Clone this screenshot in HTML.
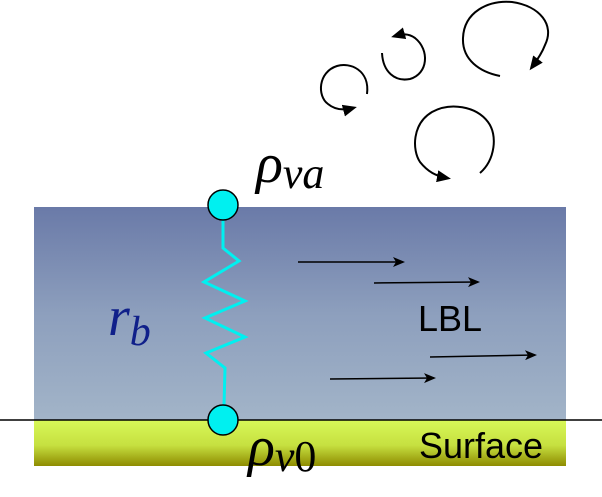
<!DOCTYPE html>
<html><head><style>
body{margin:0;background:#fff;width:602px;height:492px;overflow:hidden}
</style></head><body>
<svg width="602" height="492" viewBox="0 0 602 492" xmlns="http://www.w3.org/2000/svg">
<defs>
<linearGradient id="bl" x1="0" y1="0" x2="0" y2="1">
<stop offset="0" stop-color="#6a7aa8"/><stop offset="0.5" stop-color="#8d9fbd"/><stop offset="1" stop-color="#a2b4c8"/>
</linearGradient>
<linearGradient id="gr" x1="0" y1="0" x2="0" y2="1">
<stop offset="0" stop-color="#d8f858"/><stop offset="0.55" stop-color="#c6e040"/><stop offset="1" stop-color="#8e8c00"/>
</linearGradient>
<marker id="ah" markerWidth="12" markerHeight="10" refX="10" refY="5" orient="auto" markerUnits="userSpaceOnUse">
<path d="M0,0 L12,5 L0,10 L3,5 Z" fill="#000"/>
</marker>
<marker id="as" markerWidth="14" markerHeight="12" refX="10" refY="6" orient="auto" markerUnits="userSpaceOnUse">
<path d="M0,0 L14,6 L0,12 Z" fill="#000"/>
</marker>
</defs>
<rect x="34" y="207" width="532" height="213" fill="url(#bl)"/>
<rect x="34" y="420" width="532" height="46" fill="url(#gr)"/>
<line x1="0" y1="420" x2="602" y2="420" stroke="#000" stroke-width="1.5"/>
<polyline points="223,218 223,248 239,261 204,282 245,301 205,318 245,337 206,353 225,368 224,406" fill="none" stroke="#00f0f0" stroke-width="3"/>
<circle cx="223" cy="205" r="15" fill="#00f0f0" stroke="#000" stroke-width="1.5"/>
<circle cx="223" cy="420" r="15" fill="#00f0f0" stroke="#000" stroke-width="1.5"/>
<g stroke="#000" stroke-width="1.5" marker-end="url(#ah)">
<line x1="298" y1="262" x2="403" y2="262"/>
<line x1="374" y1="283" x2="478" y2="282"/>
<line x1="430" y1="357" x2="535" y2="355"/>
<line x1="330" y1="379" x2="434" y2="378"/>
</g>
<g fill="none" stroke="#000" stroke-width="2" marker-end="url(#as)">
<path d="M367,94 C370,70 350,62 337,66 C318,72 317,96 328,104 C334,109 342,111 353,108"/>
<path d="M382,53 C383,72 395,82 410,79 C428,74 430,50 415,38 C408,33 402,34 395,36"/>
<path d="M500,76 C480,72 462,60 463,38 C464,12 488,0 512,2 C540,6 555,25 545,45 C542,53 538,59 532,67"/>
<path d="M480,173 C495,160 498,135 488,122 C476,106 450,102 432,112 C412,124 412,150 420,162 C428,172 436,176 447,178"/>
</g>
<text x="418" y="331" font-family="Liberation Sans, sans-serif" font-size="36" fill="#000">LBL</text>
<text x="419" y="458" font-family="Liberation Sans, sans-serif" font-size="36" fill="#000">Surface</text>
<text x="108" y="335" font-family="Liberation Serif, serif" font-style="italic" font-size="56" fill="#10208a">r<tspan font-size="42" dy="10">b</tspan></text>
<text x="256" y="182" font-family="Liberation Serif, serif" font-style="italic" font-size="56" fill="#000">ρ<tspan font-size="44" dy="6">va</tspan></text>
<text x="248" y="465" font-family="Liberation Serif, serif" font-style="italic" font-size="56" fill="#000">ρ<tspan font-size="44" dy="6">v<tspan font-style="normal">0</tspan></tspan></text>
</svg>
</body></html>
